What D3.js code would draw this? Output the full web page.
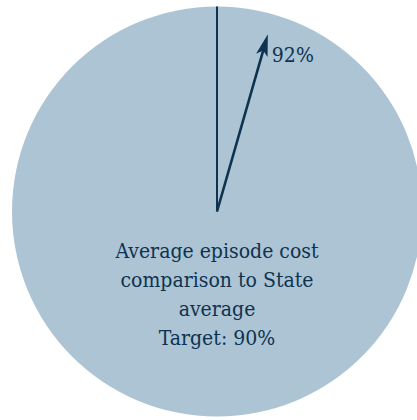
<!DOCTYPE html>
<html>
<head>
<meta charset="utf-8">
<script src="https://cdn.jsdelivr.net/npm/d3@7"></script>
<style>
  html, body { margin: 0; padding: 0; background: #ffffff; }
  svg { display: block; }
</style>
</head>
<body>
<div id="chart"></div>
<script>
// Measure: average episode cost relative to the State average (%)
const actualValue = [92];
const targetValue = [90];
const valueLabels = ["92%"];
const captionLines = ["Average episode cost", "comparison to State", "average", "Target: 90%"];

const width = 417, height = 420;
const cx = 217, cy = 211.5, radius = 205;

const ink = "#0e3350";
const dialFill = "#adc4d4";
const serif = "'DejaVu Serif Condensed', 'DejaVu Serif', serif";

const svg = d3.select("#chart").append("svg")
  .attr("width", width)
  .attr("height", height);

// Dial: percentage mapped to an angle (radians, clockwise from 12 o'clock),
// with the target pointing straight up.
const angle = d3.scaleLinear()
  .domain([targetValue[0] - 10, targetValue[0] + 10])
  .range([-80 * Math.PI / 180, 80 * Math.PI / 180]);

// Needle length as a share of the dial radius
const reach = d3.scaleLinear().domain([0, 1]).range([0, radius]);

const g = svg.append("g").attr("transform", `translate(${cx},${cy})`);

g.append("circle")
  .attr("r", radius)
  .attr("fill", dialFill);

const polar = (a, r) => [Math.sin(a) * r, -Math.cos(a) * r];

// Target line
g.selectAll("line.target").data(targetValue).join("line")
  .attr("class", "target")
  .attr("x1", 0).attr("y1", 0)
  .attr("x2", d => polar(angle(d), reach(1))[0])
  .attr("y2", d => polar(angle(d), reach(1))[1])
  .attr("stroke", ink)
  .attr("stroke-width", 2);

// Actual-value arrow
const needleLen = reach(0.9);
const headLen = 22, headHalf = 6, notchDepth = 5;

const needle = g.selectAll("g.needle").data(actualValue).join("g")
  .attr("class", "needle");

needle.append("line")
  .attr("x1", 0).attr("y1", 0)
  .attr("x2", d => polar(angle(d), needleLen - headLen + notchDepth + 1)[0])
  .attr("y2", d => polar(angle(d), needleLen - headLen + notchDepth + 1)[1])
  .attr("stroke", ink)
  .attr("stroke-width", 2.6);

needle.append("path")
  .attr("fill", ink)
  .attr("d", d => {
    const a = angle(d);
    const tip = polar(a, needleLen);
    const base = polar(a, needleLen - headLen);
    const px = Math.cos(a) * headHalf, py = Math.sin(a) * headHalf;
    const notch = polar(a, needleLen - headLen + notchDepth);
    return `M${tip[0]},${tip[1]}L${base[0] + px},${base[1] + py}L${notch[0]},${notch[1]}L${base[0] - px},${base[1] - py}Z`;
  });

needle.append("text")
  .attr("x", d => polar(angle(d), needleLen)[0] + 4)
  .attr("y", d => polar(angle(d), needleLen)[1] + 28)
  .attr("font-family", serif)
  .attr("font-size", 21)
  .attr("fill", ink)
  .text((d, i) => valueLabels[i]);

// Caption
g.append("text")
  .attr("text-anchor", "middle")
  .attr("font-family", serif)
  .attr("font-size", 21)
  .attr("fill", ink)
  .selectAll("tspan").data(captionLines).join("tspan")
  .attr("x", 0)
  .attr("y", (d, i) => 46.5 + i * 29)
  .text(d => d);
</script>
</body>
</html>
